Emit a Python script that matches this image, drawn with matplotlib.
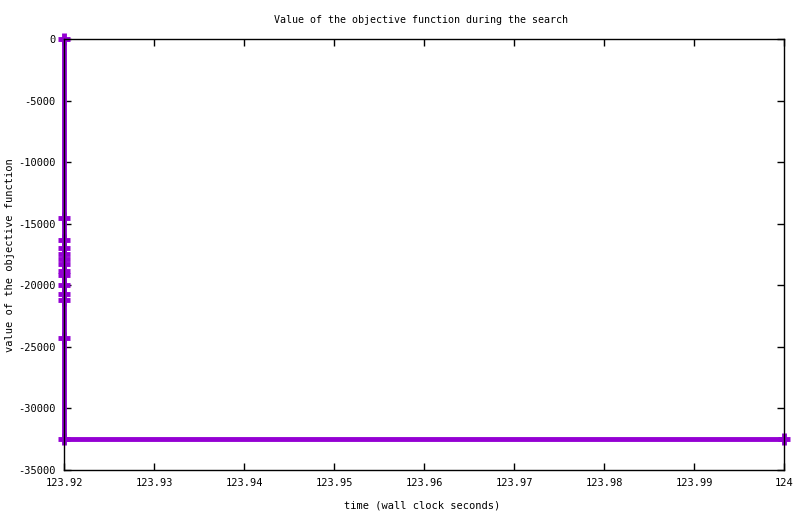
import matplotlib
matplotlib.use("Agg")
import matplotlib.pyplot as plt
from matplotlib.ticker import MultipleLocator, FuncFormatter

times = [123.92, 123.92, 123.92, 123.92, 123.92, 123.92, 123.92, 123.92,
         123.92, 123.92, 123.92, 123.92, 123.92, 123.92, 124.0]
values = [0, -14500, -16300, -17000, -17500, -17900, -18300, -18800,
          -19200, -20000, -20700, -21200, -24300, -32500, -32500]

title = "Value of the objective function during the search"
xlabel = "time (wall clock seconds)"
ylabel = "value of the objective function"

plt.rcParams['font.family'] = ['DejaVu Sans Mono']
fs = 7.5
color = '#9400D3'

fig = plt.figure(figsize=(8.0, 5.14), dpi=100)
ax = fig.add_axes([0.08, 1 - 470/514, 0.98 - 0.08, (470 - 39)/514])

ax.plot(times, values, drawstyle='steps-post', color=color, lw=3.5,
        marker='+', ms=9, mew=3.5, zorder=2, clip_on=False)

ax.set_xlim(123.92, 124.0)
ax.set_ylim(-35000, 0)
ax.xaxis.set_major_locator(MultipleLocator(0.01))
ax.yaxis.set_major_locator(MultipleLocator(5000))

def xfmt(v, p):
    s = "%.2f" % v
    s = s.rstrip('0').rstrip('.')
    return s
ax.xaxis.set_major_formatter(FuncFormatter(xfmt))
ax.yaxis.set_major_formatter(FuncFormatter(lambda v, p: "%d" % round(v)))

ax.tick_params(direction='in', length=5, width=1, top=True, right=True,
               labelsize=fs, pad=6, colors='black')
for s in ax.spines.values():
    s.set_linewidth(1)
    s.set_zorder(5)

fig.text(421/800, 1 - 20/514, title, ha='center', va='center', fontsize=7.2)
fig.text(422/800, 1 - 505/514, xlabel, ha='center', va='center', fontsize=fs)
fig.text(10/800, 1 - 255/514, ylabel, ha='center', va='center', rotation=90, fontsize=fs)

fig.savefig("out.png", dpi=100)
